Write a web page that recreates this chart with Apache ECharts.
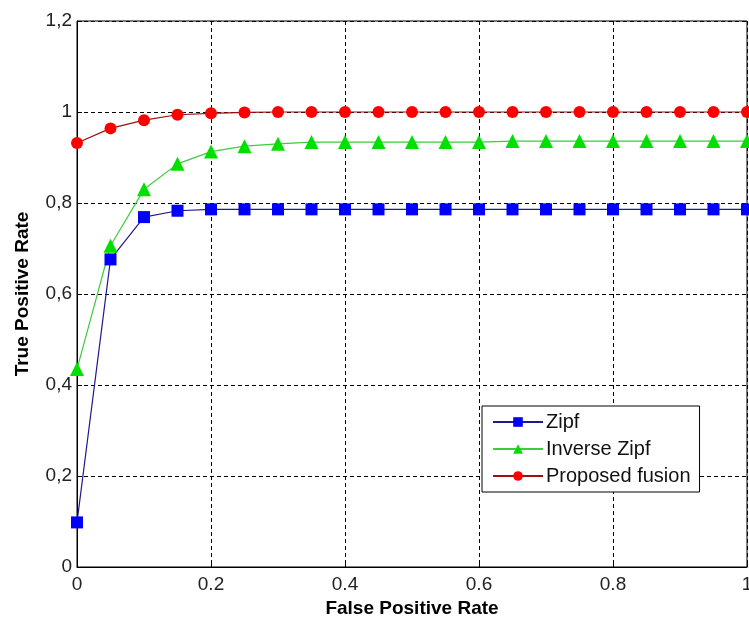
<!DOCTYPE html>
<html>
<head>
<meta charset="utf-8">
<title>ROC curves</title>
<script src="https://cdn.jsdelivr.net/npm/echarts@6/dist/echarts.min.js"></script>
<style>
  html, body { margin: 0; padding: 0; background: #fff; }
  #chart { width: 749px; height: 619px; }
</style>
</head>
<body>
<div id="chart"></div>
<script>
(function () {
  'use strict';

  const fpr = [0, 0.05, 0.1, 0.15, 0.2, 0.25, 0.3, 0.35, 0.4, 0.45, 0.5,
    0.55, 0.6, 0.65, 0.7, 0.75, 0.8, 0.85, 0.9, 0.95, 1];
  const zipf = [0.098, 0.676, 0.769, 0.783, 0.786, 0.786, 0.786, 0.786, 0.786, 0.786, 0.786,
    0.786, 0.786, 0.786, 0.786, 0.786, 0.786, 0.786, 0.786, 0.786, 0.786];
  const inverseZipf = [0.435, 0.706, 0.83, 0.886, 0.913, 0.925, 0.93, 0.934, 0.934, 0.934, 0.934,
    0.934, 0.934, 0.936, 0.936, 0.936, 0.936, 0.936, 0.936, 0.936, 0.936];
  const fusion = [0.932, 0.964, 0.982, 0.994, 0.997, 0.999, 1, 1, 1, 1, 1,
    1, 1, 1, 1, 1, 1, 1, 1, 1, 1];

  const xTicks = ['0', '0.2', '0.4', '0.6', '0.8', '1'];
  const yTicks = ['0', '0,2', '0,4', '0,6', '0,8', '1', '1,2'];

  const font = '"Liberation Sans", Arial, sans-serif';
  const chart = echarts.init(document.getElementById('chart'), null, { renderer: 'canvas' });

  function pairs(values) {
    return fpr.map((x, i) => [x, values[i]]);
  }

  const gridDash = { color: '#000', width: 1, type: [4, 3] };

  function makeSeries(name, values, symbol, size, lineColor, markColor) {
    return {
      name,
      type: 'line',
      data: pairs(values),
      symbol,
      symbolSize: size,
      showAllSymbol: true,
      lineStyle: { color: lineColor, width: 1.2 },
      itemStyle: { color: markColor, borderWidth: 0 },
      emphasis: { disabled: true },
      z: 3,
    };
  }

  chart.setOption({
    backgroundColor: '#fff',
    animation: false,
    textStyle: { fontFamily: font },
    grid: {
      left: 77, right: 2, top: 21, bottom: 52,
      show: true, borderColor: '#000', borderWidth: 1,
      outerBoundsMode: 'none',
    },
    legend: {
      orient: 'vertical',
      left: 482,
      top: 406,
      padding: [6, 9, 6, 10],
      itemGap: 7,
      itemWidth: 50,
      itemHeight: 12,
      backgroundColor: '#fff',
      borderColor: '#000',
      borderWidth: 1,
      textStyle: { fontFamily: font, fontSize: 20, color: '#111', padding: [0, 0, 0, -2] },
      data: ['Zipf', 'Inverse Zipf', 'Proposed fusion'],
    },
    xAxis: {
      type: 'value',
      min: 0, max: 1, interval: 0.2,
      name: 'False Positive Rate',
      nameLocation: 'middle',
      nameGap: 31,
      nameTextStyle: { fontFamily: font, fontSize: 19, fontWeight: 'bold', color: '#000' },
      axisLine: { onZero: false, lineStyle: { color: '#000', width: 1 } },
      axisTick: { inside: true, length: 5, lineStyle: { color: '#000' } },
      axisLabel: {
        fontFamily: font, fontSize: 19, color: '#222', margin: 8,
        formatter: (v) => xTicks[Math.round(v / 0.2)],
      },
      splitLine: { show: true, lineStyle: gridDash },
    },
    yAxis: {
      type: 'value',
      min: 0, max: 1.2, interval: 0.2,
      name: 'True Positive Rate',
      nameLocation: 'middle',
      nameGap: 45,
      nameTextStyle: { fontFamily: font, fontSize: 19, fontWeight: 'bold', color: '#000' },
      axisLine: { show: true, onZero: false, lineStyle: { color: '#000', width: 1 } },
      axisTick: { show: true, inside: true, length: 5, lineStyle: { color: '#000' } },
      axisLabel: {
        fontFamily: font, fontSize: 19, color: '#222', margin: 5,
        formatter: (v) => yTicks[Math.round(v / 0.2)],
      },
      splitLine: { show: true, lineStyle: gridDash },
    },
    series: [
      makeSeries('Zipf', zipf, 'rect', 12, '#1c1c8c', '#0000ff'),
      makeSeries('Inverse Zipf', inverseZipf, 'triangle', 14, '#3ccc3c', '#00e000'),
      makeSeries('Proposed fusion', fusion, 'circle', 12, '#9a1010', '#ff0000'),
    ],
  });
})();
</script>
</body>
</html>
